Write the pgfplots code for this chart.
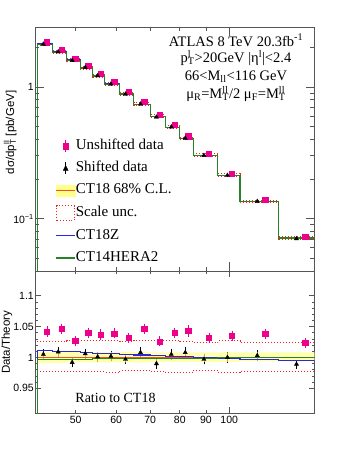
\documentclass[border=0pt]{standalone}
\usepackage{fontspec}
\setmainfont{Liberation Serif}
\setsansfont{Liberation Sans}
\usepackage{pgfplots}
\usepackage{pgfplotstable}
\pgfplotsset{compat=1.18}

\definecolor{ctband}{RGB}{255,255,140}
\definecolor{ctline}{RGB}{240,80,40}
\definecolor{sclred}{RGB}{255,30,30}
\definecolor{ctz}{RGB}{40,40,220}
\definecolor{hera}{RGB}{40,130,40}
\definecolor{frame}{RGB}{85,85,85}

% ROOT-like stacked sub/superscript
\newcommand\sud[2]{\rlap{\textsuperscript{#2}}\textsubscript{#1}}

% CT18 step values and the other predictions, left bin edges (last row closes the bin)
\pgfplotstableread{
x    t      su     sl     z      h
42   2.100  2.1525 2.0517 2.1231 2.0937
45   1.830  1.8758 1.7879 1.8483 1.8245
48   1.600  1.6432 1.5632 1.6144 1.5952
51   1.395  1.4327 1.3629 1.4062 1.3908
54   1.213  1.2458 1.1851 1.2215 1.2106
57   1.048  1.0763 1.0228 1.0543 1.0459
61   0.885  0.9080 0.8664 0.8894 0.8832
65   0.735  0.7556 0.7196 0.7379 0.7335
70   0.596  0.6127 0.5829 0.5978 0.5954
75   0.494  0.5078 0.4821 0.4950 0.4935
80   0.405  0.4155 0.3953 0.4054 0.4046
85   0.303  0.3103 0.2966 0.3030 0.3027
95   0.213  0.2188 0.2079 0.2128 0.2129
105  0.1345 0.1377 0.1315 0.1341 0.1344
125  0.0712 0.0729 0.0696 0.0708 0.0712
150  0.0712 0.0729 0.0696 0.0708 0.0712
}\toptab

\pgfplotstableread{
x    zr     hr     su     sl
42   1.011  0.997  1.025  0.977
45   1.010  0.997  1.025  0.977
48   1.009  0.997  1.027  0.977
51   1.008  0.997  1.027  0.977
54   1.007  0.998  1.027  0.977
57   1.006  0.998  1.027  0.976
61   1.005  0.998  1.026  0.979
65   1.004  0.998  1.028  0.979
70   1.003  0.999  1.028  0.978
75   1.002  0.999  1.028  0.976
80   1.001  0.999  1.026  0.976
85   1.000  0.999  1.024  0.979
95   0.999  0.9995 1.027  0.976
105  0.997  0.9995 1.024  0.978
125  0.9945 0.9995 1.024  0.978
150  0.9945 0.9995 1.024  0.978
}\ratab

% data: x, value, ratio to CT18, ratio error
\pgfplotstableread{
x     y       r      e
43.9  2.188   1.042  0.006
46.9  1.914   1.046  0.006
49.9  1.643   1.027  0.006
52.9  1.451   1.040  0.006
55.9  1.258   1.037  0.006
59.5  1.089   1.039  0.006
63.5  0.913   1.032  0.006
68.1  0.769   1.046  0.006
73.1  0.6115  1.026  0.006
78.1  0.5138  1.040  0.006
83.1  0.4224  1.043  0.007
91.3  0.3127  1.032  0.006
101.3 0.2205  1.035  0.006
117.6 0.1396  1.038  0.006
140.9 0.0729  1.024  0.006
}\unshifted

\pgfplotstableread{
x     y       r      e
43.2  2.1105  1.005  0.006
46.2  1.8465  1.009  0.006
49.2  1.587   0.992  0.006
52.2  1.4034  1.006  0.006
55.2  1.2142  1.001  0.006
58.6  1.0501  1.002  0.006
62.6  0.8823  0.997  0.006
67.0  0.7409  1.008  0.006
72.0  0.590   0.990  0.006
77.0  0.4965  1.005  0.007
82.0  0.4082  1.008  0.007
89.2  0.3021  0.997  0.006
99.2  0.213   1.000  0.006
113.5 0.1349  1.003  0.006
135.5 0.0704  0.989  0.005
}\shifted

\pgfplotsset{
  rootframe/.style={
    scale only axis, width=279.5pt,
    xmin=41.6, xmax=147,
    axis line style={frame, line width=0.9pt},
    every tick/.style={frame, line width=0.7pt},
    tick align=inside,
    tick label style={font=\sffamily\fontsize{10.5}{12}\selectfont},
    yticklabel style={inner sep=1pt},
  },
}

\begin{document}
\begin{tikzpicture}
\useasboundingbox (0,0) rectangle (349pt,452pt);

% ---------- upper panel ----------
\begin{axis}[rootframe, xmode=log, ymode=log,
  at={(35pt,181pt)}, anchor=south west, height=244pt,
  ymin=0.04, ymax=2.85,
  xtick={100}, xticklabels={},
  minor xtick={50,60,70,80,90},
  ytick={0.1,1}, yticklabels={10\textsuperscript{−1},1},
  minor ytick={0.05,0.06,0.07,0.08,0.09,0.2,0.3,0.4,0.5,0.6,0.7,0.8,0.9,2},
  major tick length=9pt, minor tick length=4.5pt,
  ylabel={dσ/dp\sud{T}{ll} [pb/GeV]},
  every axis y label/.style={at={(axis description cs:-0.089,0.568)}, rotate=90, anchor=center,
    font=\sffamily\fontsize{11.5}{12}\selectfont},
  legend style={at={(axis description cs:0.062,0.552)}, anchor=north west,
    draw=none, fill=none, font=\fontsize{15}{15}\selectfont,
    row sep=7.2pt, column sep=0pt,
    nodes={inner sep=0pt, text height=11pt, text depth=4pt}},
  legend cell align=left,
]
\addplot[sclred, dotted, line width=1pt, const plot, forget plot] table[x=x, y=su] {\toptab};
\addplot[sclred, dotted, line width=1pt, const plot, forget plot] table[x=x, y=sl] {\toptab};
\addplot[ctline, line width=1.1pt, const plot, forget plot] table[x=x, y=t] {\toptab};
\addplot[ctz, line width=1.1pt, const plot, forget plot] table[x=x, y=z] {\toptab};
\addplot[hera, line width=1.2pt, forget plot] coordinates {(42,0.001) (42,2.0937)};
\addplot[hera, line width=1.2pt, const plot, forget plot] table[x=x, y=h] {\toptab};
\addplot[only marks, mark=square*, mark size=2.6pt, magenta, forget plot] table[x=x, y=y] {\unshifted};
\addplot[only marks, mark=triangle*, mark size=2.4pt, black, forget plot] table[x=x, y=y] {\shifted};

\addlegendimage{legend image code/.code={
  \draw[magenta, line width=1pt] (9.5pt,-6pt)--(9.5pt,6pt);
  \fill[magenta] (6.7pt,-3.2pt) rectangle (12.3pt,3.2pt);}}
\addlegendentry{Unshifted data}
\addlegendimage{legend image code/.code={
  \draw[black, line width=0.8pt] (9.5pt,-6pt)--(9.5pt,6pt);
  \fill[black] (7pt,-2.2pt)--(12pt,-2.2pt)--(9.5pt,2.8pt)--cycle;}}
\addlegendentry{Shifted data}
\addlegendimage{legend image code/.code={
  \fill[ctband] (0pt,-5.5pt) rectangle (19pt,5.5pt);
  \draw[ctline, line width=1.3pt] (0pt,0pt)--(19pt,0pt);}}
\addlegendentry{CT18 68\% C.L.}
\addlegendimage{legend image code/.code={
  \draw[sclred, dotted, line width=0.9pt] (0.5pt,-7.5pt) rectangle (18pt,7.5pt);}}
\addlegendentry{Scale unc.}
\addlegendimage{legend image code/.code={
  \draw[ctz, line width=1.2pt] (0pt,0pt)--(19pt,0pt);}}
\addlegendentry{CT18Z}
\addlegendimage{legend image code/.code={
  \draw[hera, line width=1.2pt] (0pt,0pt)--(19pt,0pt);}}
\addlegendentry{CT14HERA2}

\begin{scope}[font=\fontsize{14.5}{14.5}\selectfont]
\node[anchor=base] at (axis description cs:0.719,0.922) {ATLAS 8 TeV 20.3fb\textsuperscript{-1}};
\node[anchor=base] at (axis description cs:0.719,0.8545) {p\sud{T}{l}>20GeV |η\textsuperscript{l}|<2.4};
\node[anchor=base] at (axis description cs:0.719,0.781) {66<M\textsubscript{ll}<116 GeV};
\node[anchor=base] at (axis description cs:0.719,0.707) {μ\textsubscript{R}=M\sud{T}{ll}/2 μ\textsubscript{F}=M\sud{T}{ll}};
\end{scope}
\end{axis}

% ---------- ratio panel ----------
\begin{axis}[rootframe, xmode=log,
  at={(35pt,39pt)}, anchor=south west, height=142pt,
  ymin=0.91, ymax=1.14,
  xtick={100}, xticklabels={100},
  extra x ticks={50,60,70,80,90}, extra x tick labels={50,60,70,80,90},
  extra x tick style={major tick length=3pt},
  ytick={0.95,1,1.05,1.1}, yticklabels={0.95,1,1.05,1.1},
  minor y tick num=4,
  major tick length=6pt, minor tick length=3pt,
  ylabel={Data/Theory},
  every axis y label/.style={at={(axis description cs:-0.101,0.498)}, rotate=90, anchor=center,
    font=\sffamily\fontsize{11.5}{12}\selectfont},
]
\addplot[sclred, dotted, line width=1pt, const plot] table[x=x, y=su] {\ratab};
\addplot[sclred, dotted, line width=1pt, const plot] table[x=x, y=sl] {\ratab};
\addplot[only marks, mark=square*, mark size=2.6pt, magenta,
  error bars/.cd, y dir=both, y explicit, error mark=-,
  error mark options={mark size=1.4pt, magenta, line width=0.8pt},
  error bar style={magenta, line width=0.8pt}]
  table[x=x, y=r, y error=e] {\unshifted};
\addplot[only marks, mark=triangle*, mark size=2.4pt, black,
  error bars/.cd, y dir=both, y explicit, error mark=-,
  error mark options={mark size=1.4pt, black, line width=0.7pt},
  error bar style={black, line width=0.7pt}]
  table[x=x, y=r, y error=e] {\shifted};
% CT18 68% band
\addplot[fill=ctband, fill opacity=0.7, draw=none] coordinates {
  (42,1.009) (70,1.009) (70,1.008) (150,1.008)
  (150,0.994) (105,0.994) (105,0.993) (70,0.993) (70,0.992) (48,0.992) (48,0.991) (42,0.991)
} -- cycle;
\addplot[ctline, line width=1.1pt] coordinates {(42,1) (150,1)};
\addplot[ctz, line width=1.1pt] coordinates {(42,0.9) (42,1.011)};
\addplot[ctz, line width=1.1pt, const plot] table[x=x, y=zr] {\ratab};
\addplot[hera, line width=1.1pt] coordinates {(42,0.9) (42,0.997)};
\addplot[hera, line width=1.1pt, const plot] table[x=x, y=hr] {\ratab};

\node[anchor=base west, font=\fontsize{14}{14}\selectfont] at (axis description cs:0.132,0.0725) {Ratio to CT18};
\node[anchor=base, font=\fontsize{16}{16}\selectfont] at (axis description cs:0.497,-0.211) {p\sud{T}{ll} [GeV]};
\end{axis}
\end{tikzpicture}
\end{document}
